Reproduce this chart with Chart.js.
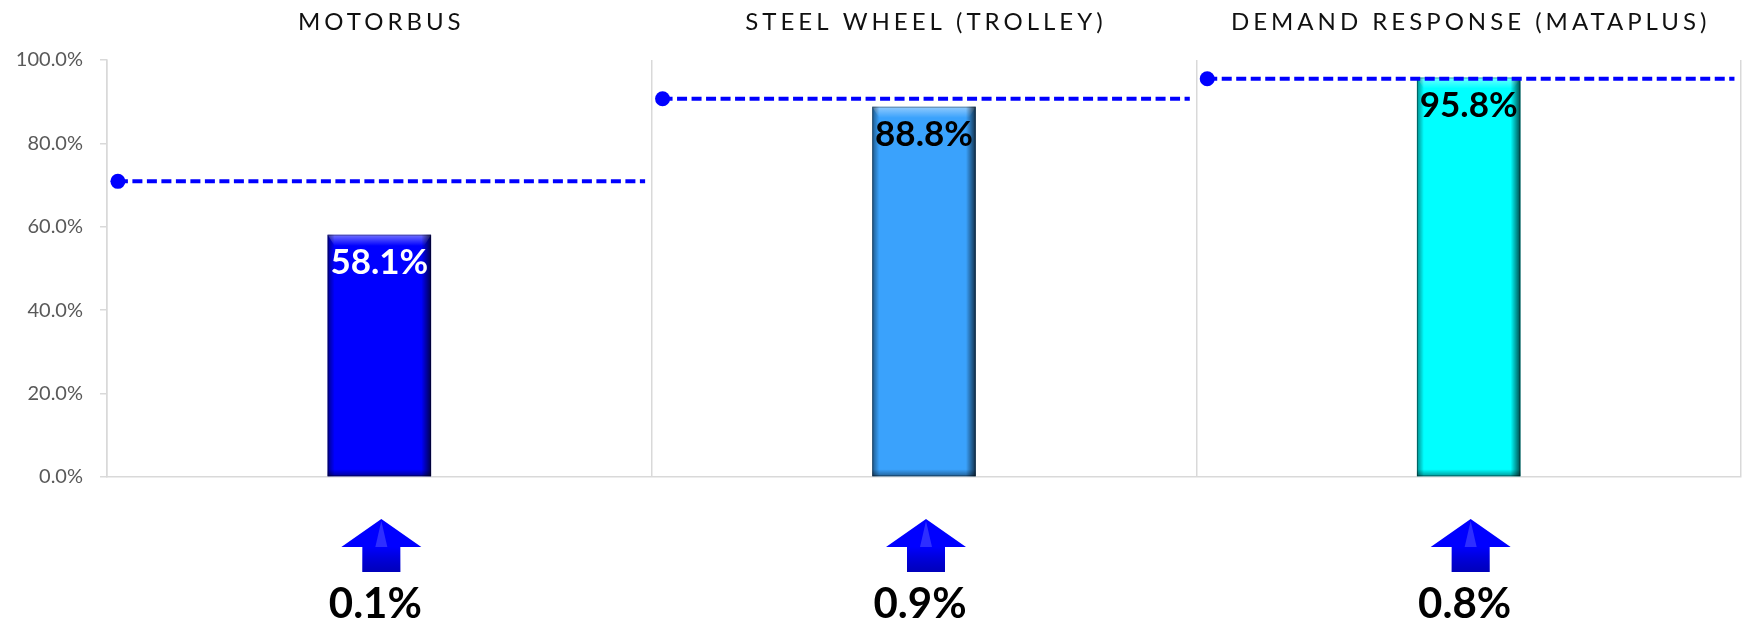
<!DOCTYPE html>
<html>
<head>
<meta charset="utf-8">
<script src="https://cdn.jsdelivr.net/npm/chart.js@4"></script>
<style>
  html, body { margin: 0; padding: 0; background: #fff; }
</style>
</head>
<body>
<canvas id="myChart" width="1754" height="628"></canvas>
<script>
// data
const categories = ['MOTORBUS', 'STEEL WHEEL (TROLLEY)', 'DEMAND RESPONSE (MATAPLUS)'];
const actualValues = [58.1, 88.8, 95.8];
const targetValues = [70.9, 90.7, 95.5];
const changeValues = [0.1, 0.9, 0.8];
const yTicks = [0, 20, 40, 60, 80, 100];

const barColors = ['#0000ff', '#3aa2fc', '#00ffff'];
const labelColors = ['#ffffff', '#000000', '#000000'];

// target line: one dashed segment per panel, broken by a null point
const targetPoints = [];
targetValues.forEach((t, i) => {
  targetPoints.push({ x: i + 0.02, y: t });
  targetPoints.push({ x: i + 0.988, y: t });
  targetPoints.push({ x: i + 0.994, y: null });
});

function bevelBar(ctx, el) {
  const w = el.width, left = el.x - w / 2, right = el.x + w / 2;
  const top = el.y, bottom = el.base;
  const e = 7;
  ctx.save();
  // lighter top edge
  let g = ctx.createLinearGradient(0, top, 0, top + e * 1.6);
  g.addColorStop(0, 'rgba(255,255,255,0.45)');
  g.addColorStop(1, 'rgba(255,255,255,0)');
  ctx.fillStyle = g;
  ctx.beginPath();
  ctx.moveTo(left, top); ctx.lineTo(right, top);
  ctx.lineTo(right - e, top + e * 1.6); ctx.lineTo(left + e, top + e * 1.6);
  ctx.closePath(); ctx.fill();
  // left shade
  g = ctx.createLinearGradient(left, 0, left + e, 0);
  g.addColorStop(0, 'rgba(0,0,0,0.45)');
  g.addColorStop(1, 'rgba(0,0,0,0)');
  ctx.fillStyle = g;
  ctx.fillRect(left, top, e, bottom - top);
  // right shade
  g = ctx.createLinearGradient(right, 0, right - e * 1.4, 0);
  g.addColorStop(0, 'rgba(0,0,0,0.7)');
  g.addColorStop(1, 'rgba(0,0,0,0)');
  ctx.fillStyle = g;
  ctx.fillRect(right - e * 1.4, top, e * 1.4, bottom - top);
  // bottom shade
  g = ctx.createLinearGradient(0, bottom, 0, bottom - e);
  g.addColorStop(0, 'rgba(0,0,0,0.4)');
  g.addColorStop(1, 'rgba(0,0,0,0)');
  ctx.fillStyle = g;
  ctx.fillRect(left, bottom - e, w, e);
  ctx.strokeStyle = 'rgba(0,0,0,0.35)';
  ctx.lineWidth = 1;
  ctx.strokeRect(left + 0.5, top + 0.5, w - 1, bottom - top - 1);
  ctx.restore();
}

function drawArrow(ctx, cx, top) {
  const headW = 40, headH = 28, shaftW = 19, shaftH = 25;
  ctx.save();
  ctx.fillStyle = '#0000ff';
  ctx.beginPath();
  ctx.moveTo(cx, top);
  ctx.lineTo(cx + headW, top + headH);
  ctx.lineTo(cx + shaftW, top + headH);
  ctx.lineTo(cx + shaftW, top + headH + shaftH);
  ctx.lineTo(cx - shaftW, top + headH + shaftH);
  ctx.lineTo(cx - shaftW, top + headH);
  ctx.lineTo(cx - headW, top + headH);
  ctx.closePath();
  ctx.fill();
  // some shading on the shaft
  const g = ctx.createLinearGradient(0, top + headH, 0, top + headH + shaftH);
  g.addColorStop(0, 'rgba(0,0,0,0)');
  g.addColorStop(1, 'rgba(0,0,60,0.35)');
  ctx.fillStyle = g;
  ctx.fillRect(cx - shaftW, top + headH, shaftW * 2, shaftH);
  ctx.fillStyle = 'rgba(255,255,255,0.18)';
  ctx.beginPath();
  ctx.moveTo(cx, top + 2); ctx.lineTo(cx - 6, top + headH); ctx.lineTo(cx + 6, top + headH);
  ctx.closePath(); ctx.fill();
  ctx.restore();
}

const panelPlugin = {
  id: 'panelPlugin',
  afterDatasetDraw(chart, args) {
    if (args.index !== 1) return;
    args.meta.data.forEach(el => bevelBar(chart.ctx, el));
  },
  afterDatasetsDraw(chart) {
    const ctx = chart.ctx;
    const bars = chart.getDatasetMeta(1).data;
    ctx.save();
    ctx.font = 'bold 35px Lato';
    ctx.textAlign = 'center';
    ctx.textBaseline = 'middle';
    bars.forEach((el, i) => {
      ctx.fillStyle = labelColors[i];
      ctx.fillText(actualValues[i].toFixed(1) + '%', el.x, el.y + 28);
    });
    ctx.restore();
  },
  afterDraw(chart) {
    const ctx = chart.ctx;
    const xs = chart.scales.x;
    ctx.save();
    // panel titles
    ctx.font = '400 24px Lato';
    ctx.letterSpacing = '4px';
    ctx.fillStyle = '#111';
    ctx.textAlign = 'center';
    ctx.textBaseline = 'middle';
    categories.forEach((c, i) => {
      ctx.fillText(c, xs.getPixelForValue(i) + 2, 22);
    });
    ctx.letterSpacing = '0px';
    // change arrows and values
    ctx.font = 'bold 42px Lato';
    ctx.fillStyle = '#000';
    changeValues.forEach((v, i) => {
      const cx = xs.getPixelForValue(i);
      drawArrow(ctx, cx + 2, 519);
      ctx.fillText(v.toFixed(1) + '%', cx - 4, 604);
    });
    ctx.restore();
  }
};

const ctx = document.getElementById('myChart').getContext('2d');
const myChart = new Chart(ctx, {
  type: 'bar',
  data: {
    labels: categories,
    datasets: [{
      type: 'line',
      label: 'Target',
      data: targetPoints,
      xAxisID: 'x2',
      borderColor: '#0000ff',
      borderWidth: 4,
      borderDash: [10, 4.5],
      pointRadius: c => (c.dataIndex % 3 === 0 ? 7.5 : 0),
      pointBackgroundColor: '#0000ff',
      pointBorderWidth: 0,
      fill: false,
      spanGaps: false,
      order: 0
    }, {
      label: 'Actual',
      data: actualValues,
      backgroundColor: barColors,
      borderWidth: 0,
      grouped: false,
      barPercentage: 0.19,
      categoryPercentage: 1,
      order: 1
    }]
  },
  options: {
    responsive: false,
    animation: false,
    layout: { padding: { top: 60, right: 13, bottom: 151, left: 0 } },
    plugins: {
      legend: { display: false },
      tooltip: { enabled: false }
    },
    scales: {
      x: {
        ticks: { display: false },
        grid: { offset: true, drawTicks: false, color: '#d9d9d9', lineWidth: 1.5 },
        border: { color: '#d9d9d9', width: 1.5 }
      },
      x2: { type: 'linear', display: false, offset: false, min: 0, max: 3 },
      y: {
        min: 0,
        max: 100,
        afterBuildTicks: axis => { axis.ticks = yTicks.map(v => ({ value: v })); },
        afterFit: s => { s.width = 107; },
        ticks: {
          callback: v => v.toFixed(1) + '%',
          color: '#595959',
          font: { family: 'Lato', size: 20 },
          padding: 17
        },
        grid: { drawOnChartArea: false, tickLength: 7, color: '#d9d9d9', lineWidth: 1.5 },
        border: { color: '#d9d9d9', width: 1.5 }
      }
    }
  },
  plugins: [panelPlugin]
});
</script>
</body>
</html>
